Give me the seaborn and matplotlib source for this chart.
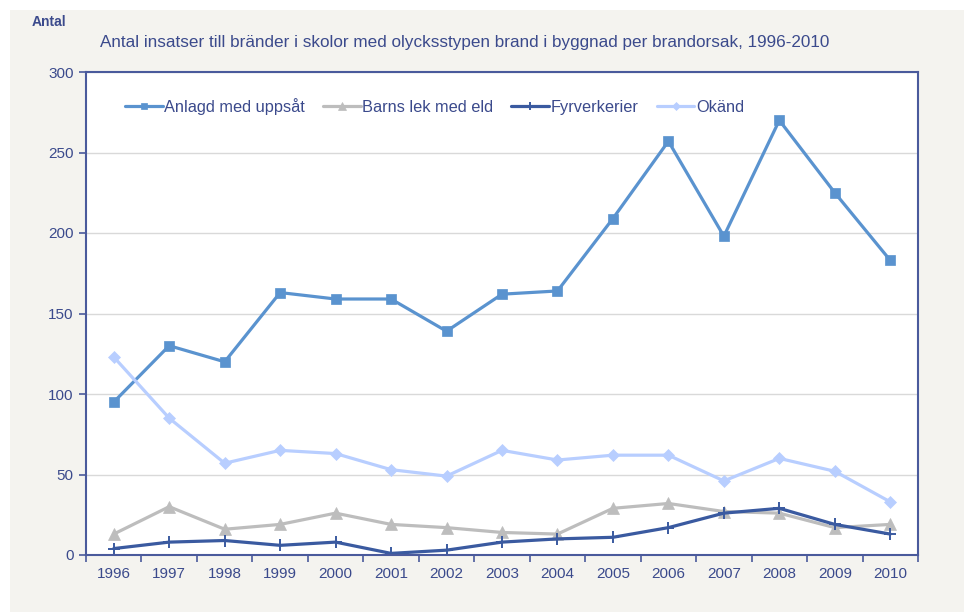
import matplotlib
matplotlib.use("Agg")
import matplotlib.pyplot as plt
import seaborn as sns
import numpy as np
import pandas as pd
from matplotlib.patches import Rectangle

years = ["1996", "1997", "1998", "1999", "2000", "2001", "2002", "2003",
         "2004", "2005", "2006", "2007", "2008", "2009", "2010"]
anlagd = [95, 130, 120, 163, 159, 159, 139, 162, 164, 209, 257, 198, 270, 225, 183]
barns = [13, 30, 16, 19, 26, 19, 17, 14, 13, 29, 32, 27, 26, 17, 19]
fyrverkerier = [4, 8, 9, 6, 8, 1, 3, 8, 10, 11, 17, 26, 29, 19, 13]
okand = [123, 85, 57, 65, 63, 53, 49, 65, 59, 62, 62, 46, 60, 52, 33]

series_names = ["Anlagd med uppsåt", "Barns lek med eld", "Fyrverkerier", "Okänd"]
series_values = [anlagd, barns, fyrverkerier, okand]

sns.set_theme(style="white")
plt.rcParams['font.family'] = ['Liberation Sans', 'DejaVu Sans']

text_color = "#3B4A8C"
spine_color = "#4A5A9C"
bg = "#F4F3EF"

fig = plt.figure(figsize=(9.64, 6.12), dpi=100, facecolor="white")
fig.patches.append(Rectangle((10 / 964, 0), 1, 1 - 10 / 612, transform=fig.transFigure,
                             facecolor=bg, edgecolor="none", zorder=-10))
ax = fig.add_axes([86 / 964, 57 / 612, (918 - 86) / 964, (555 - 72) / 612])
ax.set_facecolor("white")

colors = ["#5A93CF", "#BDBDBD", "#3A5AA0", "#B8CEFF"]
markers = ["s", "^", "+", "D"]
msizes = [7, 8, 9, 6]

x = np.arange(len(years))
for name, vals, c, m, ms in zip(series_names, series_values, colors, markers, msizes):
    df = pd.DataFrame({"x": x, "y": vals})
    sns.lineplot(data=df, x="x", y="y", ax=ax, color=c, linewidth=2.3,
                 marker=m, markersize=ms, markeredgecolor=c, markerfacecolor=c,
                 markeredgewidth=1.4 if m == "+" else 0.5, label=name)

ax.set_xlim(-0.5, len(years) - 0.5)
ax.set_ylim(0, 300)
ax.set_yticks(np.arange(0, 301, 50))
ax.set_xticks(x)
ax.set_xticklabels(years)
ax.set_xticks(np.arange(-0.5, len(years), 1.0), minor=True)
ax.tick_params(axis="x", which="major", length=0, pad=9, labelsize=11, labelcolor=text_color)
ax.tick_params(axis="x", which="minor", length=5, width=1.2, color=spine_color, direction="out", bottom=True)
ax.tick_params(axis="y", which="major", length=5, width=1.2, color=spine_color, direction="out",
               left=True, pad=4, labelsize=11, labelcolor=text_color)
ax.grid(axis="y", color="#D9D9D9", linewidth=1)
ax.set_axisbelow(True)
for s in ax.spines.values():
    s.set_color(spine_color)
    s.set_linewidth(1.5)
ax.set_xlabel("")
ax.set_ylabel("")

leg = ax.legend(loc="upper left", bbox_to_anchor=(0.029, 0.977), ncol=4, frameon=False,
                fontsize=11.8, handlelength=2.3, handletextpad=0.1, columnspacing=1.1,
                labelcolor=text_color, markerscale=0.7)

fig.text(32 / 964, 1 - 22 / 612, "Antal", fontsize=10, fontweight="bold", color=text_color,
         va="center", ha="left")
fig.text(100 / 964, 1 - 43 / 612,
         "Antal insatser till bränder i skolor med olycksstypen brand i byggnad per brandorsak, 1996-2010",
         fontsize=12.3, color=text_color, va="center", ha="left")

fig.savefig("out.png", dpi=100, facecolor=fig.get_facecolor())
